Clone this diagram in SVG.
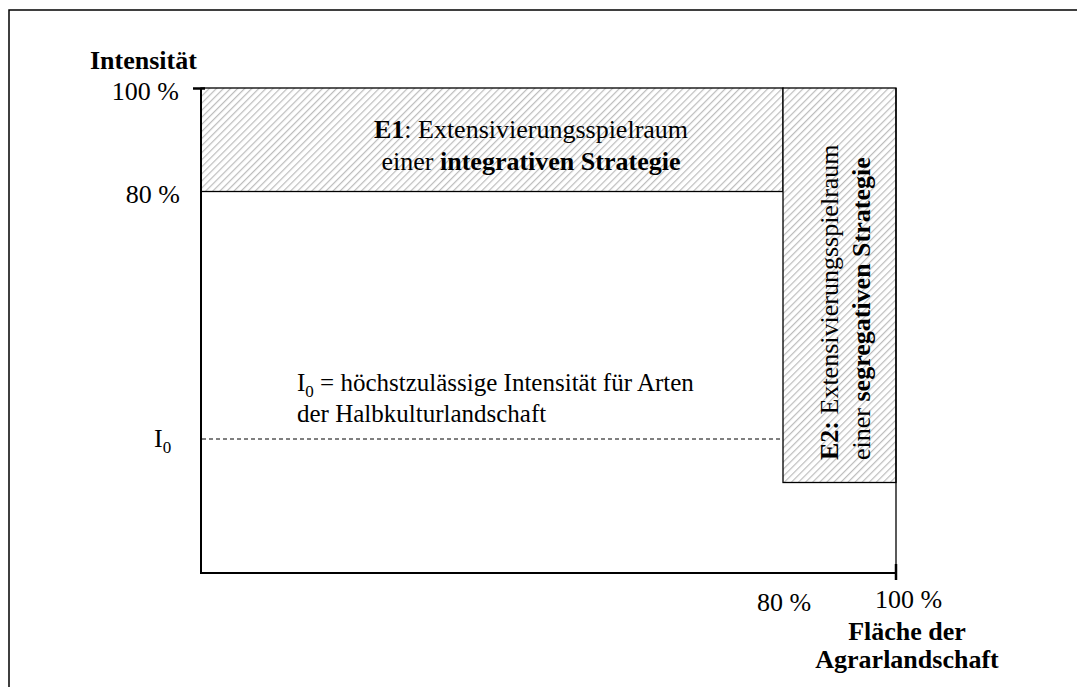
<svg xmlns="http://www.w3.org/2000/svg" width="1077" height="687" viewBox="0 0 1077 687">
<style>
  text { font-family: "Liberation Serif", "Times New Roman", serif; fill: #000; }
  .lbl { font-size: 26px; }
  .ann { font-size: 25px; }
  .b { font-weight: bold; }
  .ax { stroke: #000; stroke-width: 2; fill: none; }
  .box { fill: url(#hatch); stroke: #000; stroke-width: 1.3; }
</style>
<defs>
  <pattern id="hatch" patternUnits="userSpaceOnUse" width="5" height="5" patternTransform="rotate(45)">
    <rect width="5" height="5" fill="#ffffff"/>
    <line x1="0" y1="0" x2="0" y2="5" stroke="#bdbdbd" stroke-width="2.4"/>
  </pattern>
</defs>
<rect width="1077" height="687" fill="#ffffff"/>
<g id="frame">
  <polyline points="9,687 9,10 1077,10" fill="none" stroke="#000" stroke-width="1.5"/>
</g>
<g id="E1">
  <rect class="box" x="201" y="88" width="582" height="103.5"/>
  <text class="lbl" x="531" y="138" text-anchor="middle"><tspan class="b">E1</tspan>: Extensivierungsspielraum</text>
  <text class="lbl" x="531" y="170" text-anchor="middle">einer <tspan class="b">integrativen Strategie</tspan></text>
</g>
<g id="E2">
  <rect class="box" x="783" y="88" width="113" height="394.5"/>
  <text class="lbl" transform="translate(838,460) rotate(-90)"><tspan class="b">E2:</tspan> Extensivierungsspielraum</text>
  <text class="lbl" transform="translate(870,460) rotate(-90)">einer <tspan class="b">segregativen Strategie</tspan></text>
</g>
<g id="connectors">
  <line class="ax" x1="201" y1="88" x2="201" y2="573"/>
  <line class="ax" x1="200" y1="573" x2="897" y2="573"/>
  <line x1="193" y1="88.5" x2="205" y2="88.5" stroke="#000" stroke-width="2.5"/>
  <line x1="896" y1="88" x2="896" y2="580" stroke="#000" stroke-width="1.3"/>
  <line x1="896" y1="564" x2="896" y2="580" stroke="#000" stroke-width="2.5"/>
  <line x1="202" y1="439" x2="783" y2="439" stroke="#000" stroke-width="1" stroke-dasharray="4,3"/>
</g>
<g id="labels">
  <text class="lbl b" x="90" y="69">Intensität</text>
  <text class="lbl" x="179" y="100" text-anchor="end">100 %</text>
  <text class="lbl" x="180" y="203" text-anchor="end">80 %</text>
  <text class="lbl" x="154" y="447">I<tspan font-size="17" dy="6">0</tspan></text>
  <text class="ann" x="297" y="391">I<tspan font-size="17" dy="6">0</tspan><tspan dy="-6"> = höchstzulässige Intensität für Arten</tspan></text>
  <text class="ann" x="297" y="422">der Halbkulturlandschaft</text>
  <text class="lbl" x="757" y="611">80 %</text>
  <text class="lbl" x="875" y="608">100 %</text>
  <text class="lbl b" x="907" y="640" text-anchor="middle">Fläche der</text>
  <text class="lbl b" x="907" y="668" text-anchor="middle">Agrarlandschaft</text>
</g>
</svg>
